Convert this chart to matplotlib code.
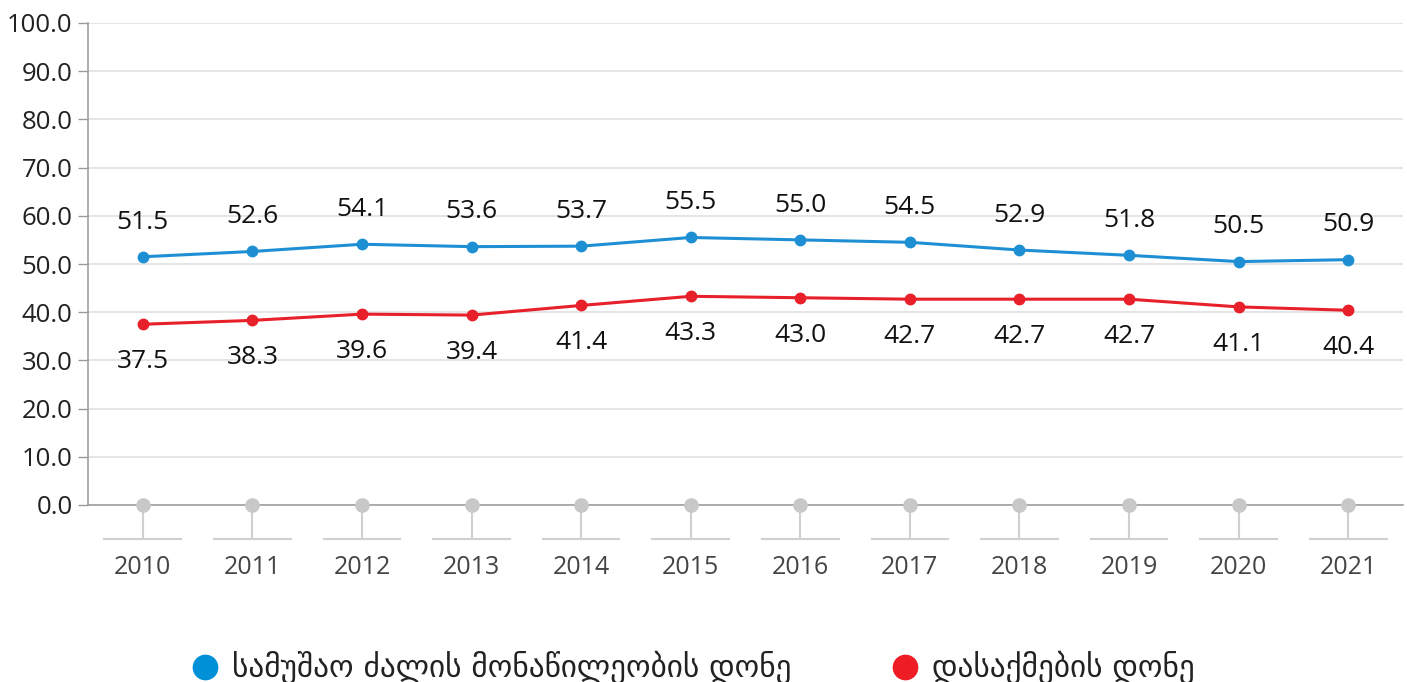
import matplotlib
matplotlib.use("Agg")
import matplotlib.pyplot as plt
from matplotlib.lines import Line2D
import matplotlib.transforms as mtransforms

years = ["2010", "2011", "2012", "2013", "2014", "2015", "2016", "2017", "2018", "2019", "2020", "2021"]
participation = [51.5, 52.6, 54.1, 53.6, 53.7, 55.5, 55.0, 54.5, 52.9, 51.8, 50.5, 50.9]
employment = [37.5, 38.3, 39.6, 39.4, 41.4, 43.3, 43.0, 42.7, 42.7, 42.7, 41.1, 40.4]
legend_labels = ["სამუშაო ძალის მონაწილეობის დონე", "დასაქმების დონე"]
yticks = [0, 10, 20, 30, 40, 50, 60, 70, 80, 90, 100]

BLUE = "#1f8fd4"
RED = "#e8202a"
NUMFONT = "Open Sans"

W, H = 1407, 682
fig = plt.figure(figsize=(W / 100, H / 100), dpi=100)
ax = fig.add_axes([88 / W, 1 - 505 / H, (1403 - 88) / W, (505 - 23) / H])

x = list(range(len(years)))
ax.set_xlim(-0.5, len(years) - 0.5)
ax.set_ylim(0, 100)

ax.set_yticks(yticks)
ax.set_yticklabels([f"{v:.1f}" for v in yticks], fontsize=18.5, family=NUMFONT, color="#222222")
ax.yaxis.grid(True, color="#e3e3e3", linewidth=1.3)
ax.set_axisbelow(True)
ax.tick_params(axis="y", length=7, width=1, color="#999999", pad=4)
ax.set_xticks([])
for s in ["top", "right"]:
    ax.spines[s].set_visible(False)
ax.spines["left"].set_color("#a0a0a0")
ax.spines["left"].set_linewidth(1.2)
ax.spines["bottom"].set_color("#a0a0a0")
ax.spines["bottom"].set_linewidth(1.2)

# category stems and baseline markers
trans = mtransforms.blended_transform_factory(ax.transData, ax.transAxes)
stem_y = -34 / 482
for i, yr in enumerate(years):
    ax.plot([i, i], [0, stem_y], transform=trans, color="#d0d0d0", lw=1.5, clip_on=False, zorder=1)
    ax.plot([i - 0.35, i + 0.35], [stem_y, stem_y], transform=trans, color="#d0d0d0", lw=1.5, clip_on=False, zorder=1)
    ax.text(i, -62 / 482, yr, transform=trans, ha="center", va="center", fontsize=18,
            family=NUMFONT, color="#444444")
ax.plot(x, [0] * len(x), linestyle="none", marker="o", ms=9.5, color="#c8c8c8", clip_on=False, zorder=3)

ax.plot(x, participation, color=BLUE, lw=2.2, marker="o", ms=7.5, zorder=4)
ax.plot(x, employment, color=RED, lw=2.2, marker="o", ms=7.5, zorder=4)

for i in x:
    ax.annotate(f"{participation[i]:.1f}", (i, participation[i]), xytext=(0, 25), textcoords="offset points",
                ha="center", va="center", fontsize=19, family=NUMFONT, color="#111111")
    ax.annotate(f"{employment[i]:.1f}", (i, employment[i]), xytext=(0, -27), textcoords="offset points",
                ha="center", va="center", fontsize=19, family=NUMFONT, color="#111111")

# legend
leg_y = 1 - 667 / H
for cx, tx, col, lab in [(205, 232, "#0090d8", legend_labels[0]), (905, 932, "#ee1c25", legend_labels[1])]:
    fig.add_artist(Line2D([cx / W], [leg_y], transform=fig.transFigure, marker="o", ms=17.5,
                          color=col, linestyle="none"))
    fig.text(tx / W, leg_y, lab, ha="left", va="center", fontsize=22.5, family="DejaVu Sans", color="#222222")

fig.savefig("out.png", dpi=100)
